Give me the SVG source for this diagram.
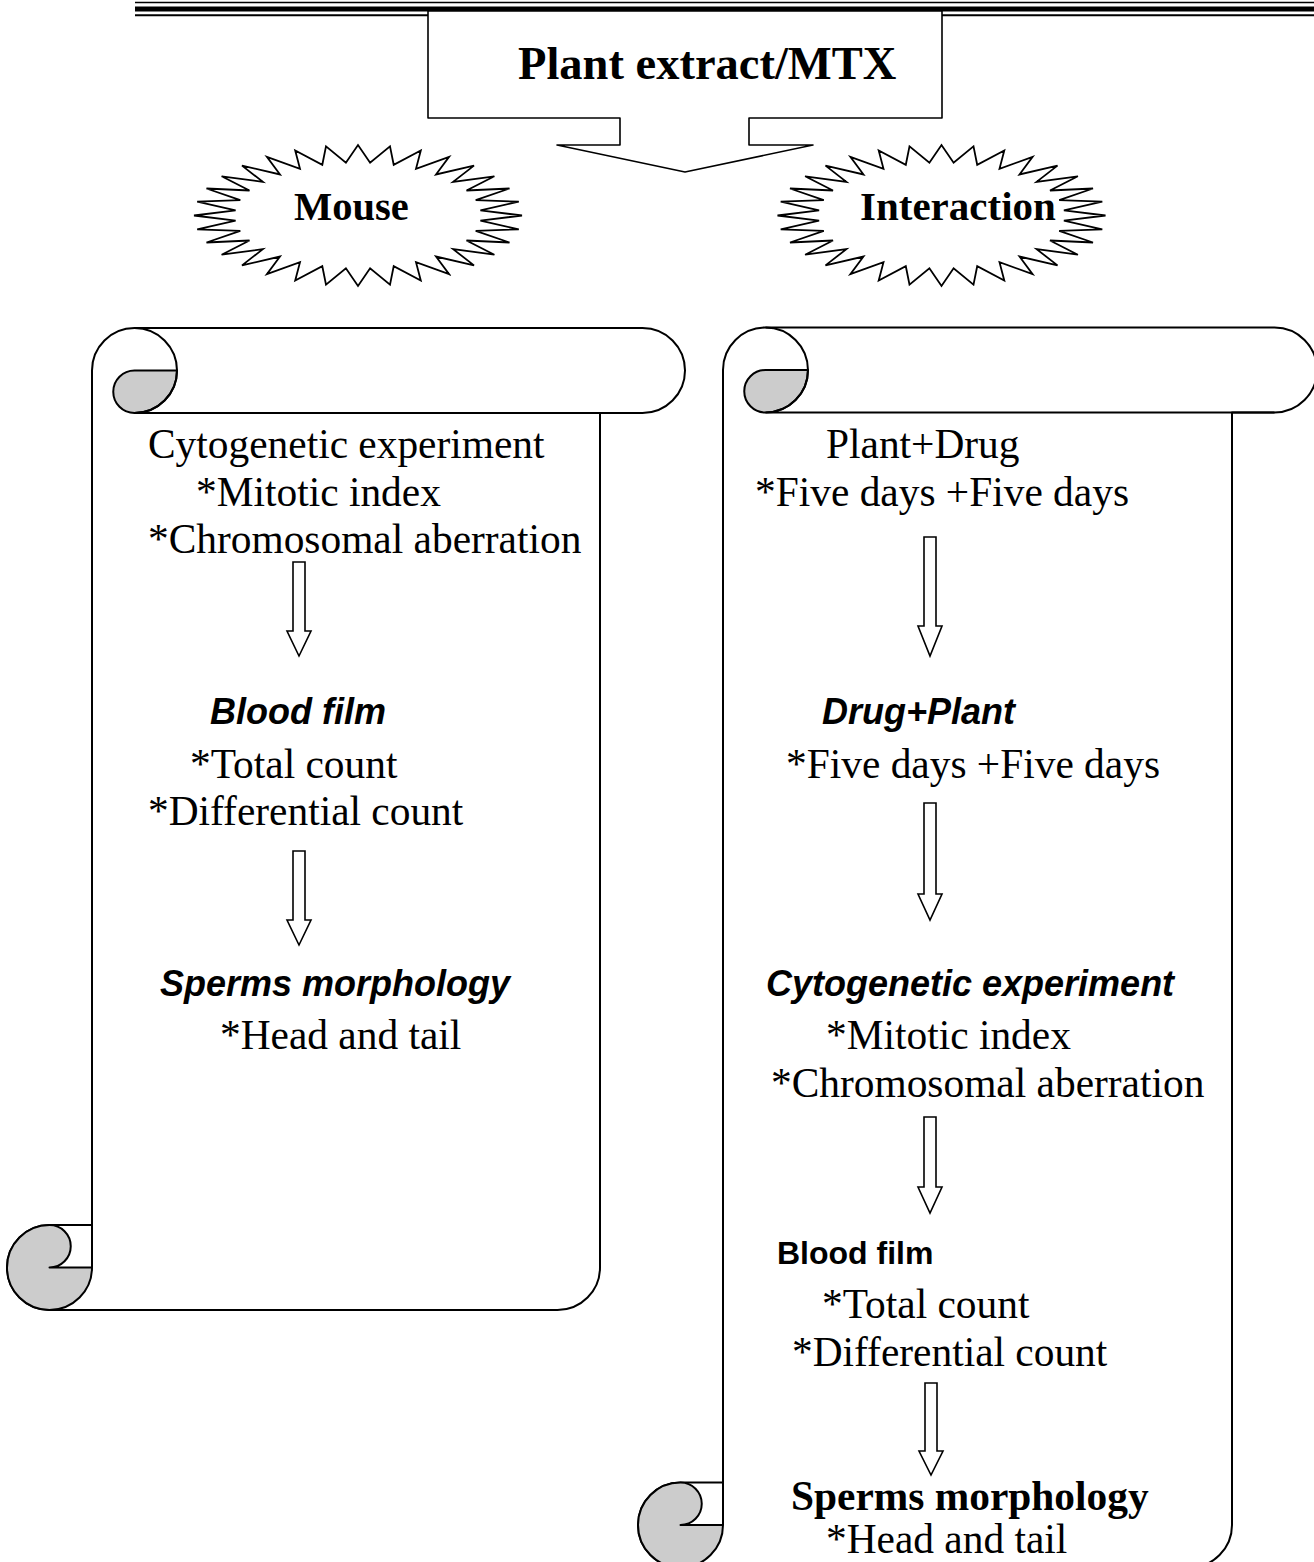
<svg xmlns="http://www.w3.org/2000/svg" width="1314" height="1562" viewBox="0 0 1314 1562">
<style>
.ln{fill:none;stroke:#000;stroke-width:2}
.wf{fill:#fff;stroke:#000;stroke-width:2;stroke-linejoin:round}
.gf{fill:#cccccc;stroke:#000;stroke-width:2;stroke-linejoin:round}
.ar{fill:#fff;stroke:#000;stroke-width:1.6;stroke-linejoin:miter}
.st{fill:#fff;stroke:#000;stroke-width:1.8;stroke-linejoin:miter}
.tr{font-family:"Liberation Serif","Times New Roman",serif;font-size:41.4px;fill:#000}
.tb{font-family:"Liberation Serif","Times New Roman",serif;font-weight:bold;fill:#000}
.sbi{font-family:"Liberation Sans",Arial,sans-serif;font-weight:bold;font-style:italic;font-size:36px;fill:#000}
.sb{font-family:"Liberation Sans",Arial,sans-serif;font-weight:bold;font-size:32px;fill:#000}
</style>
<defs>
<polygon id="star32" class="st" points="164,0 122.4,5.2 160.8,13.8 117.7,15.4 151.5,27 108.5,25 136.4,39.2 95.1,33.6 116,49.9 78,41 91.1,58.6 58,46.7 62.8,65.1 35.7,50.7 32,69.1 12.1,52.7 0,70.5 -12.1,52.7 -32,69.1 -35.7,50.7 -62.8,65.1 -58,46.7 -91.1,58.6 -78,41 -116,49.9 -95.1,33.6 -136.4,39.2 -108.5,25 -151.5,27 -117.7,15.4 -160.8,13.8 -122.4,5.2 -164,0 -122.4,-5.2 -160.8,-13.8 -117.7,-15.4 -151.5,-27 -108.5,-25 -136.4,-39.2 -95.1,-33.6 -116,-49.9 -78,-41 -91.1,-58.6 -58,-46.7 -62.8,-65.1 -35.7,-50.7 -32,-69.1 -12.1,-52.7 0,-70.5 12.1,-52.7 32,-69.1 35.7,-50.7 62.8,-65.1 58,-46.7 91.1,-58.6 78,-41 116,-49.9 95.1,-33.6 136.4,-39.2 108.5,-25 151.5,-27 117.7,-15.4 160.8,-13.8 122.4,-5.2"/>
</defs>
<rect x="0" y="0" width="1314" height="1562" fill="#fff"/>

<g id="header-lines">
<line x1="135" y1="2.5" x2="1314" y2="2.5" stroke="#000" stroke-width="1.6"/>
<line x1="135" y1="9" x2="1314" y2="9" stroke="#000" stroke-width="5"/>
<line x1="135" y1="15.2" x2="1314" y2="15.2" stroke="#000" stroke-width="2"/>
</g>

<g id="plant-extract">
<path class="wf" d="M428,11 L942,11 L942,118 L749,118 L749,145 L813,145 L685,172 L557,145 L620,145 L620,118 L428,118 Z" style="stroke-width:1.6"/>
<text class="tb" x="518" y="79" font-size="46.5">Plant extract/MTX</text>
</g>

<g id="mouse">
<use href="#star32" x="358" y="215.5"/>
<text class="tb" x="294" y="220" font-size="40.5">Mouse</text>
</g>

<g id="interaction">
<use href="#star32" x="941.5" y="215.5"/>
<text class="tb" x="860" y="220" font-size="41">Interaction</text>
</g>

<g id="scroll-mouse">
<path class="wf" d="M134.5,328 L642.5,328 A42.5,42.5 0 0 1 642.5,413 L600,413 L600,1267.5 A42.5,42.5 0 0 1 557.5,1310 L49.5,1310 A42.5,42.5 0 0 1 7,1267.5 A42.5,42.5 0 0 1 49.5,1225 L92,1225 L92,370.5 A42.5,42.5 0 0 1 134.5,328 Z"/>
<path class="gf" d="M134.5,370.5 L177,370.5 A42.5,42.5 0 0 1 134.5,413 A21.25,21.25 0 0 1 134.5,370.5 Z"/>
<path class="ln" d="M134.5,328 A42.5,42.5 0 0 1 134.5,413 L642.5,413"/>
<path class="gf" d="M49.5,1225 A21.25,21.25 0 0 1 49.5,1267.5 L92,1267.5 A42.5,42.5 0 0 1 49.5,1310 A42.5,42.5 0 0 1 7,1267.5 A42.5,42.5 0 0 1 49.5,1225 Z"/>
<path class="ln" d="M92,1225 L92,1267.5"/>
<text class="tr" x="148" y="458">Cytogenetic experiment</text>
<text class="tr" x="196" y="506">*Mitotic index</text>
<text class="tr" x="148" y="553">*Chromosomal aberration</text>
<text class="sbi" x="210" y="724">Blood film</text>
<text class="tr" x="190" y="778">*Total count</text>
<text class="tr" x="148" y="825">*Differential count</text>
<text class="sbi" x="160" y="996">Sperms morphology</text>
<text class="tr" x="220" y="1049">*Head and tail</text>
</g>

<g id="scroll-interaction">
<path class="wf" d="M765.5,327.5 L1274.5,327.5 A42.5,42.5 0 0 1 1274.5,412.5 L1232,412.5 L1232,1525 A42.5,42.5 0 0 1 1189.5,1567.5 L680.5,1567.5 A42.5,42.5 0 0 1 638,1525 A42.5,42.5 0 0 1 680.5,1482.5 L723,1482.5 L723,370 A42.5,42.5 0 0 1 765.5,327.5 Z"/>
<path class="gf" d="M765.5,370 L808,370 A42.5,42.5 0 0 1 765.5,412.5 A21.25,21.25 0 0 1 765.5,370 Z"/>
<path class="ln" d="M765.5,327.5 A42.5,42.5 0 0 1 765.5,412.5 L1274.5,412.5"/>
<path class="gf" d="M680.5,1482.5 A21.25,21.25 0 0 1 680.5,1525 L723,1525 A42.5,42.5 0 0 1 680.5,1567.5 A42.5,42.5 0 0 1 638,1525 A42.5,42.5 0 0 1 680.5,1482.5 Z"/>
<path class="ln" d="M723,1482.5 L723,1525"/>
<text class="tr" x="826" y="458">Plant+Drug</text>
<text class="tr" x="755" y="506">*Five days +Five days</text>
<text class="sbi" x="822" y="724">Drug+Plant</text>
<text class="tr" x="786" y="778">*Five days +Five days</text>
<text class="sbi" x="766" y="996">Cytogenetic experiment</text>
<text class="tr" x="826" y="1049">*Mitotic index</text>
<text class="tr" x="771" y="1097">*Chromosomal aberration</text>
<text class="sb" x="777" y="1264">Blood film</text>
<text class="tr" x="822" y="1318">*Total count</text>
<text class="tr" x="792" y="1366">*Differential count</text>
<text class="tb" x="791" y="1510" font-size="41.4">Sperms morphology</text>
<text class="tr" x="826" y="1553">*Head and tail</text>
</g>

<g id="connectors">
<path class="ar" d="M293,562 L305,562 L305,631 L311,631 L299,656 L287,631 L293,631 Z"/>
<path class="ar" d="M293,851 L305,851 L305,920 L311,920 L299,945 L287,920 L293,920 Z"/>
<path class="ar" d="M924,537 L936,537 L936,626 L942,626 L930,656 L918,626 L924,626 Z"/>
<path class="ar" d="M924,803 L936,803 L936,894 L942,894 L930,920 L918,894 L924,894 Z"/>
<path class="ar" d="M924,1117 L936,1117 L936,1187 L942,1187 L930,1213 L918,1187 L924,1187 Z"/>
<path class="ar" d="M925,1383 L937,1383 L937,1451 L943,1451 L931,1475 L919,1451 L925,1451 Z"/>
</g>
</svg>
